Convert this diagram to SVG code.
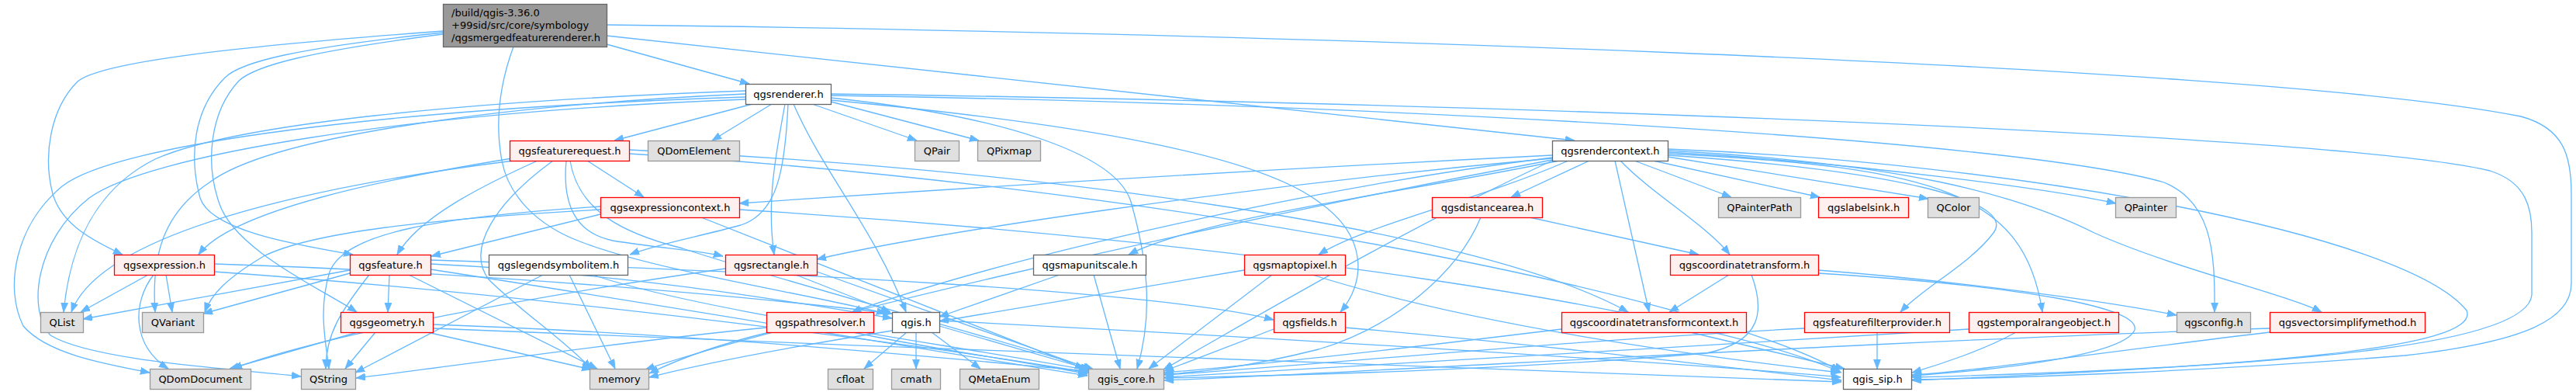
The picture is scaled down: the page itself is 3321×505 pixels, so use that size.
<svg xmlns="http://www.w3.org/2000/svg" width="3321" height="505" viewBox="0 0 3321 505">
<defs>
<marker id="a" markerUnits="userSpaceOnUse" markerWidth="13" markerHeight="10" refX="12" refY="4.5" orient="auto"><path d="M0,0 L12,4.5 L0,9 z" fill="#63b8ff" stroke="#63b8ff" stroke-width="0.8"/></marker>
<style>
rect{stroke-width:1.3}
.main{fill:#999999;stroke:#666666}
.wh{fill:#ffffff;stroke:#666666}
.rd{fill:#fff0f0;stroke:#ff0000}
.gr{fill:#e0e0e0;stroke:#999999}
text{font-family:"DejaVu Sans","Liberation Sans",sans-serif;font-size:13px;fill:#000000;text-anchor:middle}
text.l{text-anchor:start}
#edges path{fill:none;stroke:#63b8ff;stroke-width:1.3;marker-end:url(#a)}
</style>
</defs>
<rect width="3321" height="505" fill="#ffffff"/>
<g id="edges">
<path d="M782,57 L966,108"/>
<path d="M782,46 L2030,181"/>
<path d="M782,32 C1500,40 2900,80 3250,150 C3305,165 3315,200 3315,250 L3315,365 C3315,410 3260,440 3100,458 C2850,478 2600,487 2465,489"/>
<path d="M571,40 C300,60 130,80 100,105 C65,140 55,200 68,250 C80,290 120,310 158,328"/>
<path d="M571,42 C380,62 310,80 290,100 C250,140 243,200 258,255 C272,300 400,318 455,328"/>
<path d="M571,44 C400,66 330,84 308,104 C270,145 265,210 282,260 C300,320 410,370 460,402"/>
<path d="M662,60 C640,120 640,170 647,207 C655,250 690,290 750,312 C850,350 1050,380 1142,404"/>
<path d="M995,134 L918,181"/>
<path d="M1047,134 L1182,181"/>
<path d="M1071,131 L1262,181"/>
<path d="M970,134 L792,181"/>
<path d="M1012,134 C1000,200 988,260 998,328"/>
<path d="M1023,134 C1060,220 1130,300 1168,402"/>
<path d="M1071,126 C1300,150 1440,200 1458,260 C1478,330 1488,400 1466,475"/>
<path d="M1071,121 C1800,130 3000,170 3210,220 C3258,235 3264,270 3264,300 L3264,380 C3258,440 3000,472 2465,486"/>
<path d="M1071,123 C1800,135 2600,180 2790,235 C2850,260 2856,320 2855,402"/>
<path d="M961,117 C600,130 300,160 200,205 C120,245 90,320 82,402"/>
<path d="M961,121 C650,135 350,175 270,235 C210,275 195,330 200,402"/>
<path d="M961,125 C500,140 150,185 80,240 C20,290 5,370 30,420 C60,455 130,468 193,480"/>
<path d="M961,128 C520,145 190,200 115,255 C45,310 35,400 65,432 C120,465 300,475 388,485"/>
<path d="M1016,134 C1012,220 1002,275 955,290 C900,305 845,315 812,328"/>
<path d="M1071,129 C1400,160 1620,200 1700,260 C1765,305 1760,365 1728,402"/>
<path d="M757,207 L830,254"/>
<path d="M660,204 C500,230 300,270 256,328"/>
<path d="M693,207 C620,240 540,280 512,328"/>
<path d="M730,207 C725,260 740,300 790,310 C850,320 900,322 932,330"/>
<path d="M713,207 C640,260 600,320 630,360 C670,400 730,440 762,475"/>
<path d="M735,207 C745,270 800,300 880,320 C1000,360 1300,440 1410,476"/>
<path d="M811,198 C1500,240 2200,380 2372,478"/>
<path d="M811,193 C1300,215 1900,290 2099,402"/>
<path d="M662,207 C400,240 130,300 92,402"/>
<path d="M774,276 L556,330"/>
<path d="M774,270 C550,282 400,300 340,330 C290,360 272,380 264,402"/>
<path d="M774,266 C560,280 445,300 425,350 C410,400 420,440 424,475"/>
<path d="M904,280 L1398,475"/>
<path d="M953,270 C1600,310 2200,400 2374,480"/>
<path d="M191,354 L104,402"/>
<path d="M214,354 L222,402"/>
<path d="M198,354 C170,390 170,445 217,475"/>
<path d="M276,350 C700,380 1200,445 1403,480"/>
<path d="M276,340 C600,350 950,380 1150,404"/>
<path d="M451,348 L107,411"/>
<path d="M451,352 L262,404"/>
<path d="M502,354 L500,402"/>
<path d="M476,354 C440,400 420,430 420,475"/>
<path d="M527,354 L770,475"/>
<path d="M555,340 C800,352 1000,385 1150,410"/>
<path d="M555,335 C1000,350 1500,375 1642,412"/>
<path d="M555,347 C900,400 1200,452 1402,484"/>
<path d="M700,354 L458,480"/>
<path d="M734,354 L793,475"/>
<path d="M764,354 C900,400 1200,440 1404,477"/>
<path d="M935,346 C700,380 420,430 300,475"/>
<path d="M1026,354 L1148,402"/>
<path d="M1053,350 L1408,476"/>
<path d="M1366,354 L1211,408"/>
<path d="M1410,354 L1444,475"/>
<path d="M1604,348 L1211,414"/>
<path d="M1640,354 L1481,475"/>
<path d="M1692,354 C1900,420 2200,460 2372,480"/>
<path d="M2229,354 L2152,402"/>
<path d="M2258,354 C2275,400 2272,440 2200,455 C1900,480 1600,485 1501,487"/>
<path d="M2344,348 C2500,360 2700,385 2806,406"/>
<path d="M2344,352 C2600,368 2760,395 2752,425 C2740,455 2600,475 2465,484"/>
<path d="M2179,428 L2378,475"/>
<path d="M2013,424 C1800,450 1600,472 1501,480"/>
<path d="M2420,428 L2420,475"/>
<path d="M2326,423 C2000,440 1700,470 1501,483"/>
<path d="M2599,428 C2560,450 2500,470 2465,480"/>
<path d="M2538,424 C2200,445 1700,475 1501,486"/>
<path d="M2926,428 C2700,455 2550,478 2465,483"/>
<path d="M2926,423 C2400,440 1800,478 1501,490"/>
<path d="M1169,428 L1114,475"/>
<path d="M1181,428 L1181,475"/>
<path d="M1201,428 L1264,475"/>
<path d="M1211,420 L1405,476"/>
<path d="M1211,413 C1700,438 2200,470 2373,486"/>
<path d="M1150,426 C1000,450 900,470 837,486"/>
<path d="M1100,428 C1200,450 1350,470 1402,482"/>
<path d="M988,422 C800,440 600,470 459,487"/>
<path d="M992,428 C920,445 870,465 837,481"/>
<path d="M1642,424 L1501,478"/>
<path d="M1734,422 C1950,440 2200,470 2374,490"/>
<path d="M461,428 L296,475"/>
<path d="M484,428 L445,475"/>
<path d="M551,428 L762,476"/>
<path d="M558,418 C900,430 1200,460 1403,478"/>
<path d="M558,423 C1200,450 2000,478 2374,492"/>
<path d="M1972,280 L2190,328"/>
<path d="M1909,280 C1880,350 1800,420 1700,450 C1600,475 1540,480 1501,482"/>
<path d="M2001,200 C1600,220 1200,245 953,262"/>
<path d="M2049,207 L1948,254"/>
<path d="M2107,207 L2232,254"/>
<path d="M2131,207 L2346,254"/>
<path d="M2150,202 L2486,256"/>
<path d="M2150,196 C2400,210 2650,245 2728,262"/>
<path d="M2001,204 C1600,240 1200,300 1053,334"/>
<path d="M2010,207 C1800,250 1550,280 1455,328"/>
<path d="M2022,207 C1900,260 1760,290 1700,328"/>
<path d="M2089,207 C2130,250 2200,290 2230,328"/>
<path d="M2082,207 L2126,402"/>
<path d="M2150,200 C2450,220 2600,260 2570,300 C2540,340 2480,370 2450,402"/>
<path d="M2150,198 C2500,215 2610,250 2633,402"/>
<path d="M2150,194 C2450,210 2600,250 2700,300 C2800,345 2950,380 2993,402"/>
<path d="M2001,207 C1800,300 1600,420 1500,476"/>
<path d="M2150,192 C2600,210 3100,300 3180,400 C3200,450 2900,472 2465,490"/>
<path d="M2001,206 C1500,300 1000,420 832,476"/>
<path d="M2001,203 C1700,240 1300,330 1098,402"/>
</g>
<g id="n_main"><rect class="main" x="571.5" y="5.5" width="211" height="55"/><text class="l" x="582" y="21">/build/qgis-3.36.0</text><text class="l" x="582" y="37">+99sid/src/core/symbology</text><text class="l" x="582" y="53">/qgsmergedfeaturerenderer.h</text></g>
<g id="n_renderer"><rect class="wh" x="961.5" y="108.5" width="110" height="26"/><text x="1016.5" y="126">qgsrenderer.h</text></g>
<g id="n_featurerequest"><rect class="rd" x="657.5" y="181.5" width="154" height="26"/><text x="734.5" y="199">qgsfeaturerequest.h</text></g>
<g id="n_QDomElement"><rect class="gr" x="835.5" y="181.5" width="118" height="26"/><text x="894.5" y="199">QDomElement</text></g>
<g id="n_QPair"><rect class="gr" x="1179.5" y="181.5" width="57" height="26"/><text x="1208" y="199">QPair</text></g>
<g id="n_QPixmap"><rect class="gr" x="1260.5" y="181.5" width="81" height="26"/><text x="1301" y="199">QPixmap</text></g>
<g id="n_rendercontext"><rect class="wh" x="2001.5" y="181.5" width="149" height="26"/><text x="2076" y="199">qgsrendercontext.h</text></g>
<g id="n_exprcontext"><rect class="rd" x="774.5" y="254.5" width="179" height="26"/><text x="864" y="272">qgsexpressioncontext.h</text></g>
<g id="n_distancearea"><rect class="rd" x="1846.5" y="254.5" width="142" height="26"/><text x="1917.5" y="272">qgsdistancearea.h</text></g>
<g id="n_QPainterPath"><rect class="gr" x="2215.5" y="254.5" width="106" height="26"/><text x="2268.5" y="272">QPainterPath</text></g>
<g id="n_labelsink"><rect class="rd" x="2344.5" y="254.5" width="116" height="26"/><text x="2402.5" y="272">qgslabelsink.h</text></g>
<g id="n_QColor"><rect class="gr" x="2485.5" y="254.5" width="66" height="26"/><text x="2518.5" y="272">QColor</text></g>
<g id="n_QPainter"><rect class="gr" x="2727.5" y="254.5" width="78" height="26"/><text x="2766.5" y="272">QPainter</text></g>
<g id="n_expression"><rect class="rd" x="147.5" y="328.5" width="129" height="26"/><text x="212" y="346">qgsexpression.h</text></g>
<g id="n_feature"><rect class="rd" x="451.5" y="328.5" width="104" height="26"/><text x="503.5" y="346">qgsfeature.h</text></g>
<g id="n_legendsymbolitem"><rect class="wh" x="630.5" y="328.5" width="179" height="26"/><text x="720" y="346">qgslegendsymbolitem.h</text></g>
<g id="n_rectangle"><rect class="rd" x="935.5" y="328.5" width="118" height="26"/><text x="994.5" y="346">qgsrectangle.h</text></g>
<g id="n_mapunitscale"><rect class="wh" x="1332.5" y="328.5" width="145" height="26"/><text x="1405" y="346">qgsmapunitscale.h</text></g>
<g id="n_maptopixel"><rect class="rd" x="1604.5" y="328.5" width="130" height="26"/><text x="1669.5" y="346">qgsmaptopixel.h</text></g>
<g id="n_coordtransform"><rect class="rd" x="2153.5" y="328.5" width="191" height="26"/><text x="2249" y="346">qgscoordinatetransform.h</text></g>
<g id="n_QList"><rect class="gr" x="52.5" y="402.5" width="55" height="26"/><text x="80" y="420">QList</text></g>
<g id="n_QVariant"><rect class="gr" x="183.5" y="402.5" width="79" height="26"/><text x="223" y="420">QVariant</text></g>
<g id="n_geometry"><rect class="rd" x="439.5" y="402.5" width="119" height="26"/><text x="499" y="420">qgsgeometry.h</text></g>
<g id="n_pathresolver"><rect class="rd" x="988.5" y="402.5" width="138" height="26"/><text x="1057.5" y="420">qgspathresolver.h</text></g>
<g id="n_qgis"><rect class="wh" x="1150.5" y="402.5" width="61" height="26"/><text x="1181" y="420">qgis.h</text></g>
<g id="n_fields"><rect class="rd" x="1642.5" y="402.5" width="92" height="26"/><text x="1688.5" y="420">qgsfields.h</text></g>
<g id="n_ctcontext"><rect class="rd" x="2013.5" y="402.5" width="238" height="26"/><text x="2132.5" y="420">qgscoordinatetransformcontext.h</text></g>
<g id="n_featurefilterprovider"><rect class="rd" x="2326.5" y="402.5" width="187" height="26"/><text x="2420" y="420">qgsfeaturefilterprovider.h</text></g>
<g id="n_temporalrangeobject"><rect class="rd" x="2538.5" y="402.5" width="193" height="26"/><text x="2635" y="420">qgstemporalrangeobject.h</text></g>
<g id="n_config"><rect class="gr" x="2806.5" y="402.5" width="95" height="26"/><text x="2854" y="420">qgsconfig.h</text></g>
<g id="n_vectorsimplifymethod"><rect class="rd" x="2926.5" y="402.5" width="200" height="26"/><text x="3026.5" y="420">qgsvectorsimplifymethod.h</text></g>
<g id="n_QDomDocument"><rect class="gr" x="193.5" y="475.5" width="130" height="26"/><text x="258.5" y="493">QDomDocument</text></g>
<g id="n_QString"><rect class="gr" x="388.5" y="475.5" width="70" height="26"/><text x="423.5" y="493">QString</text></g>
<g id="n_memory"><rect class="gr" x="760.5" y="475.5" width="76" height="26"/><text x="798.5" y="493">memory</text></g>
<g id="n_cfloat"><rect class="gr" x="1067.5" y="475.5" width="58" height="26"/><text x="1096.5" y="493">cfloat</text></g>
<g id="n_cmath"><rect class="gr" x="1149.5" y="475.5" width="63" height="26"/><text x="1181" y="493">cmath</text></g>
<g id="n_QMetaEnum"><rect class="gr" x="1237.5" y="475.5" width="102" height="26"/><text x="1288.5" y="493">QMetaEnum</text></g>
<g id="n_qgis_core"><rect class="gr" x="1403.5" y="475.5" width="97" height="26"/><text x="1452" y="493">qgis_core.h</text></g>
<g id="n_qgis_sip"><rect class="wh" x="2376.5" y="475.5" width="88" height="26"/><text x="2420.5" y="493">qgis_sip.h</text></g>
</svg>
